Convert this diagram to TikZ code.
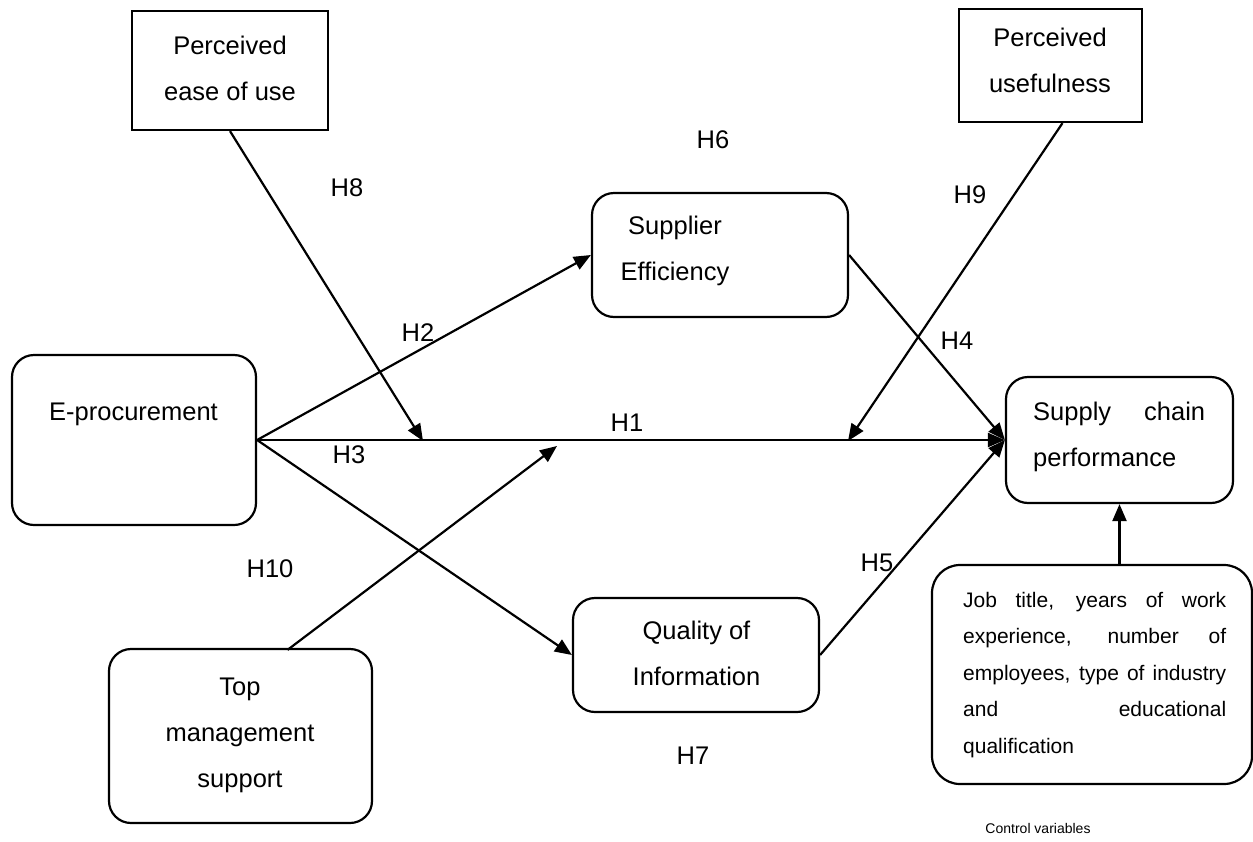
\documentclass[tikz,border=0pt]{standalone}
\usepackage{fontspec}
\setmainfont{Liberation Sans}
\usetikzlibrary{arrows.meta,calc}

\tikzset{
  box/.style={draw, rounded corners=22pt, inner sep=0pt, line width=2.2pt},
  sqbox/.style={draw, inner sep=0pt, line width=2.2pt},
  % multi-line texts are placed by the baseline of their last line
  txt/.style={font=\fontsize{25.5}{46}\selectfont, inner sep=0pt, align=center, anchor=base},
  smalltxt/.style={font=\fontsize{21}{36.5}\selectfont, inner sep=0pt, align=left, anchor=base west},
  hyp/.style={font=\fontsize{25.5}{30}\selectfont, inner sep=0pt},
  conn/.style={-{Triangle[length=17pt,width=14pt]}, line width=2.2pt},
}

\begin{document}
\begin{tikzpicture}[x=1pt,y=-1pt]
\useasboundingbox (0,0) rectangle (1253,841);

% constructs
\node[sqbox, minimum width=196pt, minimum height=119pt] (ease) at (230,70.5) {};
\node[sqbox, minimum width=183pt, minimum height=113pt] (useful) at (1050.5,65.5) {};
\node[box, minimum width=256pt, minimum height=124pt] (supplier) at (720,255) {};
\node[box, minimum width=244pt, minimum height=170pt] (eproc) at (134,440) {};
\node[box, minimum width=227pt, minimum height=126pt] (supply) at (1119.5,440) {};
\node[box, minimum width=246pt, minimum height=114pt] (quality) at (696,655) {};
\node[box, minimum width=263pt, minimum height=174pt] (topmgmt) at (240.5,736) {};
\node[box, rounded corners=28pt, minimum width=320pt, minimum height=219pt] (control) at (1092,674.5) {};

% box texts
\node[txt] (easetxt) at (230,100) {Perceived\\ease of use};
\node[txt] (usefultxt) at (1050,92) {Perceived\\usefulness};
\node[txt] (suppliertxt) at (675,280) {Supplier\\Efficiency};
\node[txt] (eproctxt) at (133.5,420) {E-procurement};
\node[txt, align=left, anchor=base west] (supplytxt) at (1033,466)
  {\makebox[172pt][s]{Supply chain}\\performance};
\node[txt] (qualitytxt) at (696.5,685) {Quality of\\Information};
\node[txt] (toptxt) at (240,787) {Top\\management\\support};
\node[smalltxt] (controltxt) at (963,753)
  {\makebox[263pt][s]{Job title, years of work}\\
   \makebox[263pt][s]{experience, number of}\\
   \makebox[263pt][s]{employees, type of industry}\\
   \makebox[263pt][s]{and educational}\\
   qualification};
\node[font=\fontsize{14}{17}\selectfont, inner sep=0pt] (ctrllabel) at (1038,828) {Control variables};

% moderation targets on the direct path
\coordinate (m8) at (423,441);
\coordinate (m9) at (848,441);
\coordinate (m10) at (557,446);

% paths
\draw[conn] (eproc.east) -- (supply.west);
\draw[conn] (eproc.east) -- (supplier.west);
\draw[conn] (eproc.east) -- (quality.west);
\draw[conn] (supplier.east) -- (supply.west);
\draw[conn] (quality.east) -- (supply.west);
\draw[conn] (ease.south) -- (m8);
\draw[conn] ($(useful.south)+(12,0)$) -- (m9);
\draw[conn] ($(topmgmt.north)+(47,2)$) -- (m10);
\draw[conn] (control.north -| supply.south) -- (supply.south);

% hypothesis labels
\node[hyp] (h1) at (627,423) {H1};
\node[hyp] (h2) at (418,333) {H2};
\node[hyp] (h3) at (349,455) {H3};
\node[hyp] (h4) at (957,341) {H4};
\node[hyp] (h5) at (877,563) {H5};
\node[hyp] (h6) at (713,140) {H6};
\node[hyp] (h7) at (693,756) {H7};
\node[hyp] (h8) at (347,188) {H8};
\node[hyp] (h9) at (970,195) {H9};
\node[hyp] (h10) at (270,569) {H10};
\end{tikzpicture}
\end{document}
